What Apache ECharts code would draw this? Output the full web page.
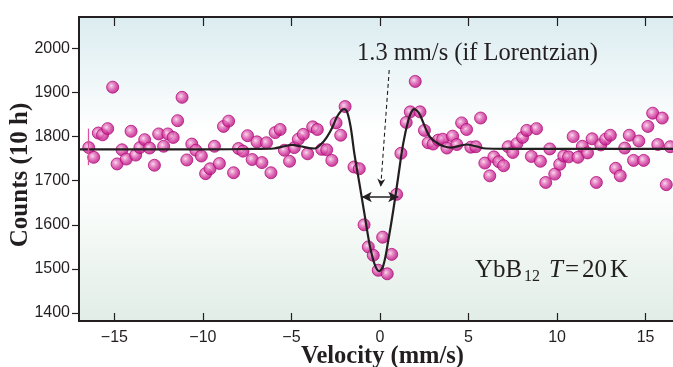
<!DOCTYPE html>
<html>
<head>
<meta charset="utf-8">
<script src="https://cdn.jsdelivr.net/npm/echarts@6/dist/echarts.min.js"></script>
<style>html,body{margin:0;padding:0;background:#fff;overflow:hidden;width:673px;height:367px}#c{width:690px;height:367px}</style>
</head>
<body>
<div id="c"></div>
<script>
// ---- data ----
const velocity = [-16.45,-16.17,-15.91,-15.67,-15.38,-15.10,-14.85,-14.57,-14.33,-14.06,-13.80,-13.56,-13.29,-13.01,-12.74,-12.50,-12.22,-11.98,-11.68,-11.43,-11.18,-10.91,-10.63,-10.40,-10.09,-9.85,-9.60,-9.35,-9.07,-8.84,-8.55,-8.27,-7.99,-7.74,-7.48,-7.22,-6.95,-6.67,-6.41,-6.16,-5.92,-5.64,-5.40,-5.11,-4.84,-4.61,-4.33,-4.09,-3.80,-3.54,-3.29,-3.01,-2.72,-2.48,-2.22,-1.97,-1.47,-1.17,-0.90,-0.66,-0.38,-0.10,0.15,0.41,0.66,0.94,1.18,1.48,1.71,1.99,2.26,2.51,2.72,3.00,3.29,3.54,3.78,4.10,4.34,4.61,4.89,5.13,5.41,5.68,5.92,6.20,6.43,6.71,6.98,7.24,7.50,7.73,8.05,8.29,8.55,8.84,9.06,9.36,9.59,9.87,10.15,10.38,10.65,10.91,11.18,11.43,11.72,11.98,12.22,12.47,12.74,13.01,13.31,13.57,13.82,14.08,14.32,14.62,14.89,15.13,15.40,15.69,15.94,16.17,16.39];
const counts = [1775,1753,1808,1804,1818,1912,1738,1770,1749,1812,1758,1775,1793,1774,1735,1806,1778,1806,1798,1836,1889,1747,1783,1769,1756,1716,1727,1778,1739,1823,1835,1718,1773,1767,1802,1748,1788,1741,1786,1718,1809,1816,1769,1744,1775,1794,1805,1761,1822,1816,1771,1770,1746,1831,1803,1868,1731,1727,1600,1550,1531,1497,1572,1489,1533,1669,1762,1832,1856,1925,1856,1814,1786,1783,1792,1794,1774,1801,1782,1831,1816,1776,1777,1842,1740,1711,1754,1743,1734,1777,1764,1784,1798,1814,1755,1818,1744,1696,1772,1715,1737,1756,1754,1800,1753,1778,1763,1795,1696,1781,1794,1803,1728,1711,1774,1803,1746,1790,1746,1823,1853,1782,1842,1691,1777];
const fitVelocity = [-17,-10,-7,-6,-5.4,-5.0,-4.5,-4.0,-3.7,-3.35,-3.0,-2.7,-2.45,-2.2,-2.03,-1.85,-1.65,-1.45,-1.13,-0.85,-0.56,-0.28,-0.04,0.19,0.47,0.75,1.03,1.31,1.6,1.78,1.92,2.08,2.26,2.54,2.82,3.2,3.6,4.0,4.5,4.9,5.4,6.0,8,17];
const fitCounts = [1771,1771,1772,1773,1778,1781,1778,1774,1773,1782,1799,1820,1843,1858,1862,1855,1820,1762,1686,1618,1550,1508,1495,1508,1565,1633,1709,1784,1837,1856,1862,1859,1849,1822,1799,1786,1778,1775,1779,1782,1778,1773,1772,1772];
const xTickValues = [-15,-10,-5,0,5,10,15];
const yTickValues = [1400,1500,1600,1700,1800,1900,2000];
const errorBar = [[-16.45,1818],[-16.45,1735]];
const hintArrow = [[0.52,1951],[0.04,1686]];
const widthArrow = [[-1.03,1663],[1.03,1663]];

const ink = '#231f20';
const minus = v => String(v).replace('-', '\u2212');
const plain = v => String(v);

const chart = echarts.init(document.getElementById('c'), null, {renderer:'canvas'});
const xCommon = {type:'value', min:-17, max:17, splitLine:{show:false},
  axisLine:{show:false, onZero:false}};
const yCommon = {type:'value', min:1382, max:2071, splitLine:{show:false},
  axisLine:{show:false, onZero:false}};
const serif = '"Liberation Serif", "Times New Roman", serif';

chart.setOption({
  animation:false,
  grid:{left:79, top:17, bottom:46, right:9, show:true, borderColor:ink, borderWidth:2,
    backgroundColor:{type:'linear', x:0, y:0, x2:0, y2:1, colorStops:[
      {offset:0, color:'#dbecf0'},{offset:0.38, color:'#ffffff'},{offset:0.6, color:'#fbfdfc'},{offset:1, color:'#e1ede6'}]}},
  xAxis:[
    Object.assign({}, xCommon, {position:'bottom',
      axisTick:{show:true, inside:true, length:8, lineStyle:{color:ink, width:1.2}, customValues:xTickValues},
      axisLabel:{show:true, margin:9, color:ink, fontFamily:'"Liberation Sans", Arial, sans-serif', fontSize:16, customValues:xTickValues, formatter:minus}}),
    Object.assign({}, xCommon, {position:'top',
      axisTick:{show:true, inside:true, length:9, lineStyle:{color:ink, width:1.2}, customValues:xTickValues},
      axisLabel:{show:false}})
  ],
  yAxis:[
    Object.assign({}, yCommon, {position:'left',
      axisTick:{show:true, inside:false, length:7, lineStyle:{color:ink, width:1.2}, customValues:yTickValues},
      axisLabel:{show:true, margin:9, color:ink, fontFamily:'"Liberation Sans", Arial, sans-serif', fontSize:16, customValues:yTickValues, formatter:plain}}),
    Object.assign({}, yCommon, {position:'right',
      axisTick:{show:true, inside:true, length:8, lineStyle:{color:ink, width:1.2}, customValues:yTickValues},
      axisLabel:{show:false}})
  ],
  series:[
    {type:'scatter', data:velocity.map((v,i)=>[v,counts[i]]), symbolSize:12, z:2,
      itemStyle:{borderColor:'#b20e7b', borderWidth:1,
        color:{type:'radial', x:0.4, y:0.4, r:0.6, colorStops:[
          {offset:0, color:'#f9d3ea'},{offset:0.3, color:'#e47ec0'},{offset:0.7, color:'#cd2c97'},{offset:1, color:'#b8117f'}]}},
      markLine:{silent:true, symbol:['none','none'], label:{show:false},
        lineStyle:{color:'#d9529f', width:1.3, type:'solid'},
        data:[[{coord:errorBar[0]},{coord:errorBar[1]}]]}},
    {type:'line', data:fitVelocity.map((v,i)=>[v,fitCounts[i]]), smooth:0.35, showSymbol:false, z:3,
      lineStyle:{color:ink, width:2.2},
      markLine:{silent:true, label:{show:false}, animation:false,
        data:[
          [{coord:hintArrow[0], symbol:'none', lineStyle:{type:[4,3], width:1.1, color:ink}},
           {coord:hintArrow[1], symbol:'arrow', symbolSize:[6,8]}],
          [{coord:widthArrow[0], symbol:'arrow', symbolSize:[8,10], lineStyle:{type:'solid', width:1.5, color:ink}},
           {coord:widthArrow[1], symbol:'arrow', symbolSize:[8,10]}]
        ]}}
  ],
  graphic:[
    {type:'text', x:21, y:175, rotation:Math.PI/2, z:10, style:{text:'Counts (10 h)', fill:ink, align:'center', verticalAlign:'middle', font:'bold 25px ' + serif}},
    {type:'text', x:382.5, y:357, z:10, style:{text:'Velocity (mm/s)', fill:ink, align:'center', verticalAlign:'middle', font:'bold 24.5px ' + serif}},
    {type:'text', left:357, top:41, z:10, style:{text:'1.3 mm/s (if Lorentzian)', fill:ink, font:'24.5px ' + serif}},
    {type:'text', left:475, top:258, z:10, style:{text:'YbB', fill:ink, font:'25px ' + serif}},
    {type:'text', left:524, top:269, z:10, style:{text:'12', fill:ink, font:'16px ' + serif}},
    {type:'text', left:549, top:258, z:10, style:{text:'T', fill:ink, font:'italic 25px ' + serif}},
    {type:'text', left:565, top:258, z:10, style:{text:'=', fill:ink, font:'25px ' + serif}},
    {type:'text', left:582, top:258, z:10, style:{text:'20', fill:ink, font:'25px ' + serif}},
    {type:'text', left:610, top:258, z:10, style:{text:'K', fill:ink, font:'25px ' + serif}}
  ]
});
</script>
</body>
</html>
